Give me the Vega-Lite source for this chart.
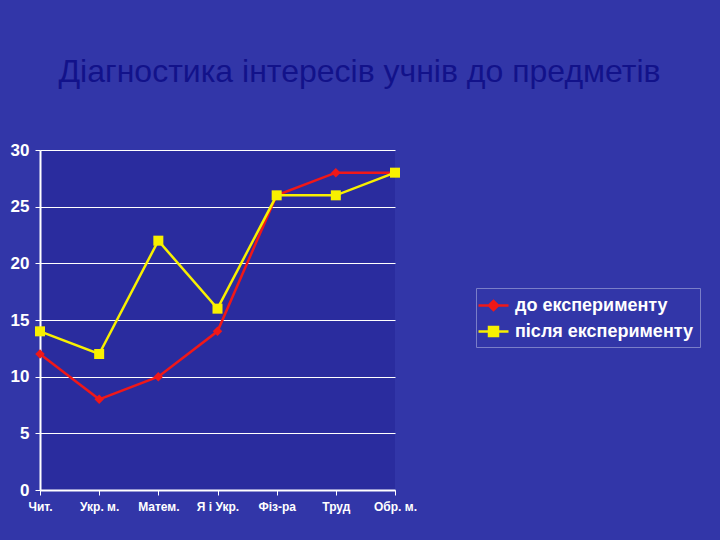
{
  "$schema": "https://vega.github.io/schema/vega-lite/v6.json",
  "width": 355,
  "height": 340,
  "autosize": {"type": "none"},
  "padding": {"left": 40, "top": 150, "right": 325, "bottom": 50},
  "background": "#3236a8",
  "title": {
    "text": "Діагностика інтересів учнів до предметів",
    "font": "Liberation Sans",
    "fontSize": 32,
    "fontWeight": "normal",
    "color": "#12128a",
    "anchor": "middle",
    "frame": "group",
    "dx": 142,
    "offset": 52
  },
  "config": {
    "view": {"stroke": null, "fill": "#2a2c9e"},
    "axis": {
      "labelFont": "Liberation Sans",
      "labelFontWeight": "bold",
      "labelColor": "#ffffff",
      "domainColor": "#ffffff",
      "tickColor": "#ffffff",
      "gridColor": "#ffffff",
      "title": null
    },
    "legend": {
      "labelFont": "Liberation Sans",
      "labelFontWeight": "bold",
      "labelFontSize": 18,
      "labelColor": "#ffffff",
      "labelLimit": 400,
      "symbolSize": 400,
      "symbolStrokeWidth": 2.5,
      "rowPadding": 5,
      "labelOffset": 10,
      "padding": 6,
      "strokeColor": "#7a7ec8",
      "title": null
    }
  },
  "data": {
    "values": [
      {"subject": "Чит.", "series": "до експерименту", "value": 12},
      {"subject": "Укр. м.", "series": "до експерименту", "value": 8},
      {"subject": "Матем.", "series": "до експерименту", "value": 10},
      {"subject": "Я і Укр.", "series": "до експерименту", "value": 14},
      {"subject": "Фіз-ра", "series": "до експерименту", "value": 26},
      {"subject": "Труд", "series": "до експерименту", "value": 28},
      {"subject": "Обр. м.", "series": "до експерименту", "value": 28},
      {"subject": "Чит.", "series": "після експерименту", "value": 14},
      {"subject": "Укр. м.", "series": "після експерименту", "value": 12},
      {"subject": "Матем.", "series": "після експерименту", "value": 22},
      {"subject": "Я і Укр.", "series": "після експерименту", "value": 16},
      {"subject": "Фіз-ра", "series": "після експерименту", "value": 26},
      {"subject": "Труд", "series": "після експерименту", "value": 26},
      {"subject": "Обр. м.", "series": "після експерименту", "value": 28}
    ]
  },
  "encoding": {
    "x": {
      "field": "subject",
      "type": "ordinal",
      "sort": null,
      "scale": {"type": "point", "padding": 0},
      "axis": {
        "labelAngle": 0,
        "labelFontSize": 12,
        "domainWidth": 2,
        "tickSize": 5,
        "labelPadding": 6,
        "grid": false
      }
    },
    "y": {
      "field": "value",
      "type": "quantitative",
      "scale": {"domain": [0, 30], "nice": false},
      "axis": {
        "values": [0, 5, 10, 15, 20, 25, 30],
        "labelFontSize": 17,
        "domainWidth": 2,
        "tickSize": 5,
        "labelPadding": 6,
        "grid": true,
        "gridWidth": 1,
        "gridOpacity": 1
      }
    }
  },
  "layer": [
    {
      "mark": {"type": "line", "strokeWidth": 2.5},
      "encoding": {
        "color": {
          "field": "series",
          "type": "nominal",
          "scale": {
            "domain": ["до експерименту", "після експерименту"],
            "range": ["#f01818", "#f8f000"]
          },
          "legend": {
            "orient": "none",
            "legendX": 436,
            "legendY": 138,
            "encode": {
              "symbols": {
                "update": {
                  "shape": {"signal": "datum.value === 'до експерименту' ? 'M-1.5,0H1.5M-0.45,0L0,-0.45L0.45,0L0,0.45Z' : 'M-1.5,0H1.5M-0.45,-0.45H0.45V0.45H-0.45Z'"},
                  "fill": {"scale": "color", "field": "value"},
                  "stroke": {"scale": "color", "field": "value"},
                  "strokeWidth": {"value": 2.5},
                  "opacity": {"value": 1}
                }
              }
            }
          }
        }
      }
    },
    {
      "transform": [{"filter": "datum.series === 'до експерименту'"}],
      "mark": {"type": "point", "shape": "diamond", "filled": true, "opacity": 1, "color": "#f01818", "size": 90}
    },
    {
      "transform": [{"filter": "datum.series === 'після експерименту'"}],
      "mark": {"type": "point", "shape": "square", "filled": true, "opacity": 1, "color": "#f8f000", "size": 100}
    }
  ]
}
